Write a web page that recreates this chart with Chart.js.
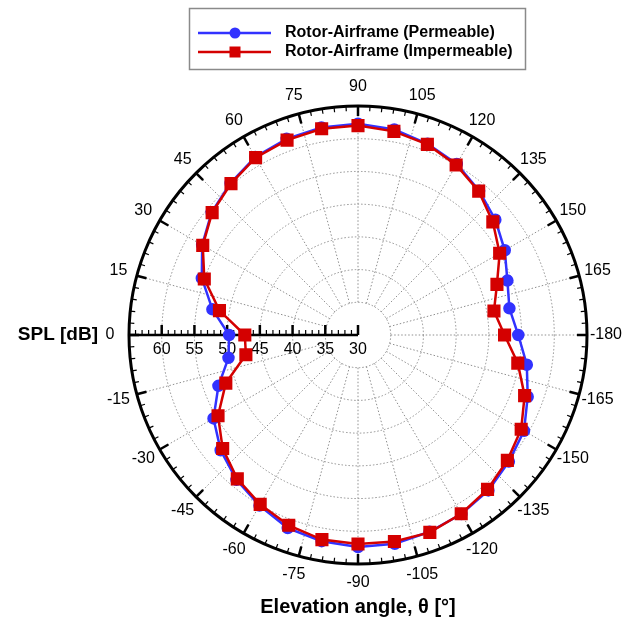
<!DOCTYPE html>
<html>
<head>
<meta charset="utf-8">
<script src="https://cdn.jsdelivr.net/npm/chart.js@4.4.0/dist/chart.umd.min.js"></script>
<style>
  html, body { margin: 0; padding: 0; background: #fff; }
  #wrap { width: 630px; height: 621px; position: relative; }
</style>
</head>
<body>
<div id="wrap"><canvas id="polar"></canvas></div>
<script>
// elevation angle of each measured point, deg
const angles = [0, 10, 20, 30, 40, 50, 60, 70, 80, 90, 100, 110, 120, 130, 140, 150, 160, 170, 180,
  -170, -160, -150, -140, -130, -120, -110, -100, -90, -80, -70, -60, -50, -40, -30, -20, -10];

// SPL [dB]
const splPermeable = [49.7, 52.6, 55.4, 57.5, 59.2, 60.3, 61.4, 61.9, 62.2, 62.3, 61.9, 61.1, 60.2, 58.8, 57.4, 55.9, 54.3, 53.5, 54.5,
  56.2, 57.6, 59.3, 60.1, 61.0, 61.6, 62.0, 62.4, 62.4, 62.0, 61.4, 60.1, 58.9, 57.4, 55.5, 52.7, 50.1];
const splImpermeable = [47.3, 51.5, 55.0, 57.4, 59.1, 60.2, 61.3, 61.7, 62.0, 62.0, 61.6, 61.0, 60.0, 58.7, 56.9, 55.0, 52.6, 51.1, 52.4,
  54.8, 57.1, 58.8, 59.8, 60.8, 61.55, 62.1, 62.05, 61.95, 61.75, 60.95, 59.9, 58.7, 57.0, 54.7, 51.5, 47.4];

const angleTicks = [0, 15, 30, 45, 60, 75, 90, 105, 120, 135, 150, 165, -180, -165, -150, -135, -120, -105, -90, -75, -60, -45, -30, -15];
const splTicks = [60, 55, 50, 45, 40, 35, 30];
const splMin = 30;
const splMax = 65;

const STEP = 5;            // angular resolution of the category ring
const slots = 360 / STEP;
const slotOf = a => (((a % 360) + 360) % 360) / STEP;

const ringLabels = [];
for (let i = 0; i < slots; i++) ringLabels.push(i * STEP);

function toRing(values) {
  const out = new Array(slots).fill(null);
  angles.forEach((a, i) => { out[slotOf(a)] = values[i]; });
  return out;
}

const FONT = '"Liberation Sans", Arial, Helvetica, sans-serif';
const BLUE = 'rgb(50, 50, 255)';
const RED = 'rgb(212, 0, 0)';

function seg(ctx, p, q) {
  ctx.beginPath();
  ctx.moveTo(p.x, p.y);
  ctx.lineTo(q.x, q.y);
  ctx.stroke();
}

const polarFrame = {
  id: 'polarFrame',
  beforeDatasetsDraw(chart) {
    const s = chart.scales.r;
    const ctx = chart.ctx;
    const rad = v => s.getDistanceFromCenterForValue(v);
    const at = (a, d) => s.getPointPosition(slotOf(a), d);
    ctx.save();

    // dotted rings and spokes
    ctx.strokeStyle = '#8f8f8f';
    ctx.lineWidth = 1;
    ctx.setLineDash([1.5, 2]);
    for (let v = 35; v < splMax; v += 5) {
      ctx.beginPath();
      ctx.arc(s.xCenter, s.yCenter, rad(v), 0, Math.PI * 2);
      ctx.stroke();
    }
    angleTicks.forEach(a => {
      if (a === 0) return;
      seg(ctx, at(a, rad(35)), at(a, rad(splMax)));
    });
    ctx.setLineDash([]);

    // outer rim with inward ticks
    const R = rad(splMax);
    ctx.strokeStyle = '#000';
    ctx.lineWidth = 3;
    ctx.beginPath();
    ctx.arc(s.xCenter, s.yCenter, R, 0, Math.PI * 2);
    ctx.stroke();
    for (let a = 0; a < 360; a += 3) {
      const major = a % 15 === 0;
      ctx.lineWidth = major ? 2.5 : 1.2;
      seg(ctx, at(a, R), at(a, R - (major ? 10 : 5)));
    }

    // radial SPL axis along 0 deg
    const p0 = at(0, R), p1 = at(0, rad(splMin));
    ctx.lineWidth = 2.5;
    seg(ctx, p0, p1);
    for (let v = splMin; v < splMax; v++) {
      const major = v % 5 === 0;
      const p = at(0, rad(v));
      ctx.lineWidth = major ? 2.5 : 1.2;
      seg(ctx, p, { x: p.x, y: p.y - (major ? 10 : 5) });
    }
    ctx.fillStyle = '#000';
    ctx.font = '16px ' + FONT;
    ctx.textAlign = 'center';
    ctx.textBaseline = 'middle';
    splTicks.forEach(v => {
      const p = at(0, rad(v));
      ctx.fillText(String(v), p.x, p.y + 15);
    });

    // angle labels
    angleTicks.forEach(a => {
      const p = at(a, R + 19);
      ctx.fillText(String(a), p.x, p.y);
    });

    // axis titles
    const z = at(0, R + 19);
    ctx.font = 'bold 19px ' + FONT;
    ctx.textAlign = 'right';
    ctx.fillText('SPL [dB]', z.x - 12, z.y);
    ctx.font = 'bold 20px ' + FONT;
    ctx.textAlign = 'center';
    ctx.fillText('Elevation angle, \u03B8 [\u00B0]', s.xCenter, 607);
    ctx.restore();
  },
  afterDraw(chart) {
    const ctx = chart.ctx;
    ctx.save();
    ctx.fillStyle = '#fff';
    ctx.fillRect(189, 8, 336, 61);
    ctx.strokeStyle = '#8a8a8a';
    ctx.lineWidth = 1.5;
    ctx.strokeRect(189.5, 8.5, 336, 61);
    const rows = [
      { text: 'Rotor-Airframe (Permeable)', color: BLUE, y: 33, square: false },
      { text: 'Rotor-Airframe (Impermeable)', color: RED, y: 52, square: true }
    ];
    rows.forEach(r => {
      ctx.strokeStyle = r.color;
      ctx.fillStyle = r.color;
      ctx.lineWidth = 2.5;
      seg(ctx, { x: 198, y: r.y }, { x: 271, y: r.y });
      if (r.square) {
        ctx.fillRect(229.5, r.y - 5.5, 11, 11);
      } else {
        ctx.beginPath();
        ctx.arc(235, r.y, 5.5, 0, Math.PI * 2);
        ctx.fill();
      }
      ctx.fillStyle = '#000';
      ctx.font = 'bold 16px ' + FONT;
      ctx.textAlign = 'left';
      ctx.textBaseline = 'middle';
      ctx.fillText(r.text, 285, r.y);
    });
    ctx.restore();
  }
};

new Chart(document.getElementById('polar'), {
  type: 'radar',
  data: {
    labels: ringLabels,
    datasets: [
      {
        label: 'Rotor-Airframe (Permeable)',
        data: toRing(splPermeable),
        borderColor: BLUE,
        backgroundColor: BLUE,
        pointBackgroundColor: BLUE,
        pointBorderColor: BLUE,
        pointStyle: 'circle',
        pointRadius: 5,
        borderWidth: 2.5,
        spanGaps: true,
        fill: false,
        order: 2
      },
      {
        label: 'Rotor-Airframe (Impermeable)',
        data: toRing(splImpermeable),
        borderColor: RED,
        backgroundColor: RED,
        pointBackgroundColor: RED,
        pointBorderColor: RED,
        pointStyle: 'rect',
        pointRadius: 7.5,
        borderWidth: 2.5,
        spanGaps: true,
        fill: false,
        order: 1
      }
    ]
  },
  options: {
    responsive: true,
    maintainAspectRatio: false,
    animation: false,
    layout: { padding: { left: 129, right: 43, top: 106, bottom: 57 } },
    elements: { line: { tension: 0 } },
    plugins: {
      legend: { display: false },
      tooltip: { enabled: false }
    },
    scales: {
      r: {
        min: splMin,
        max: splMax,
        startAngle: -90,
        ticks: { display: false, stepSize: 5 },
        pointLabels: { display: false },
        grid: { display: false },
        angleLines: { display: false }
      }
    }
  },
  plugins: [polarFrame]
});
</script>
</body>
</html>
